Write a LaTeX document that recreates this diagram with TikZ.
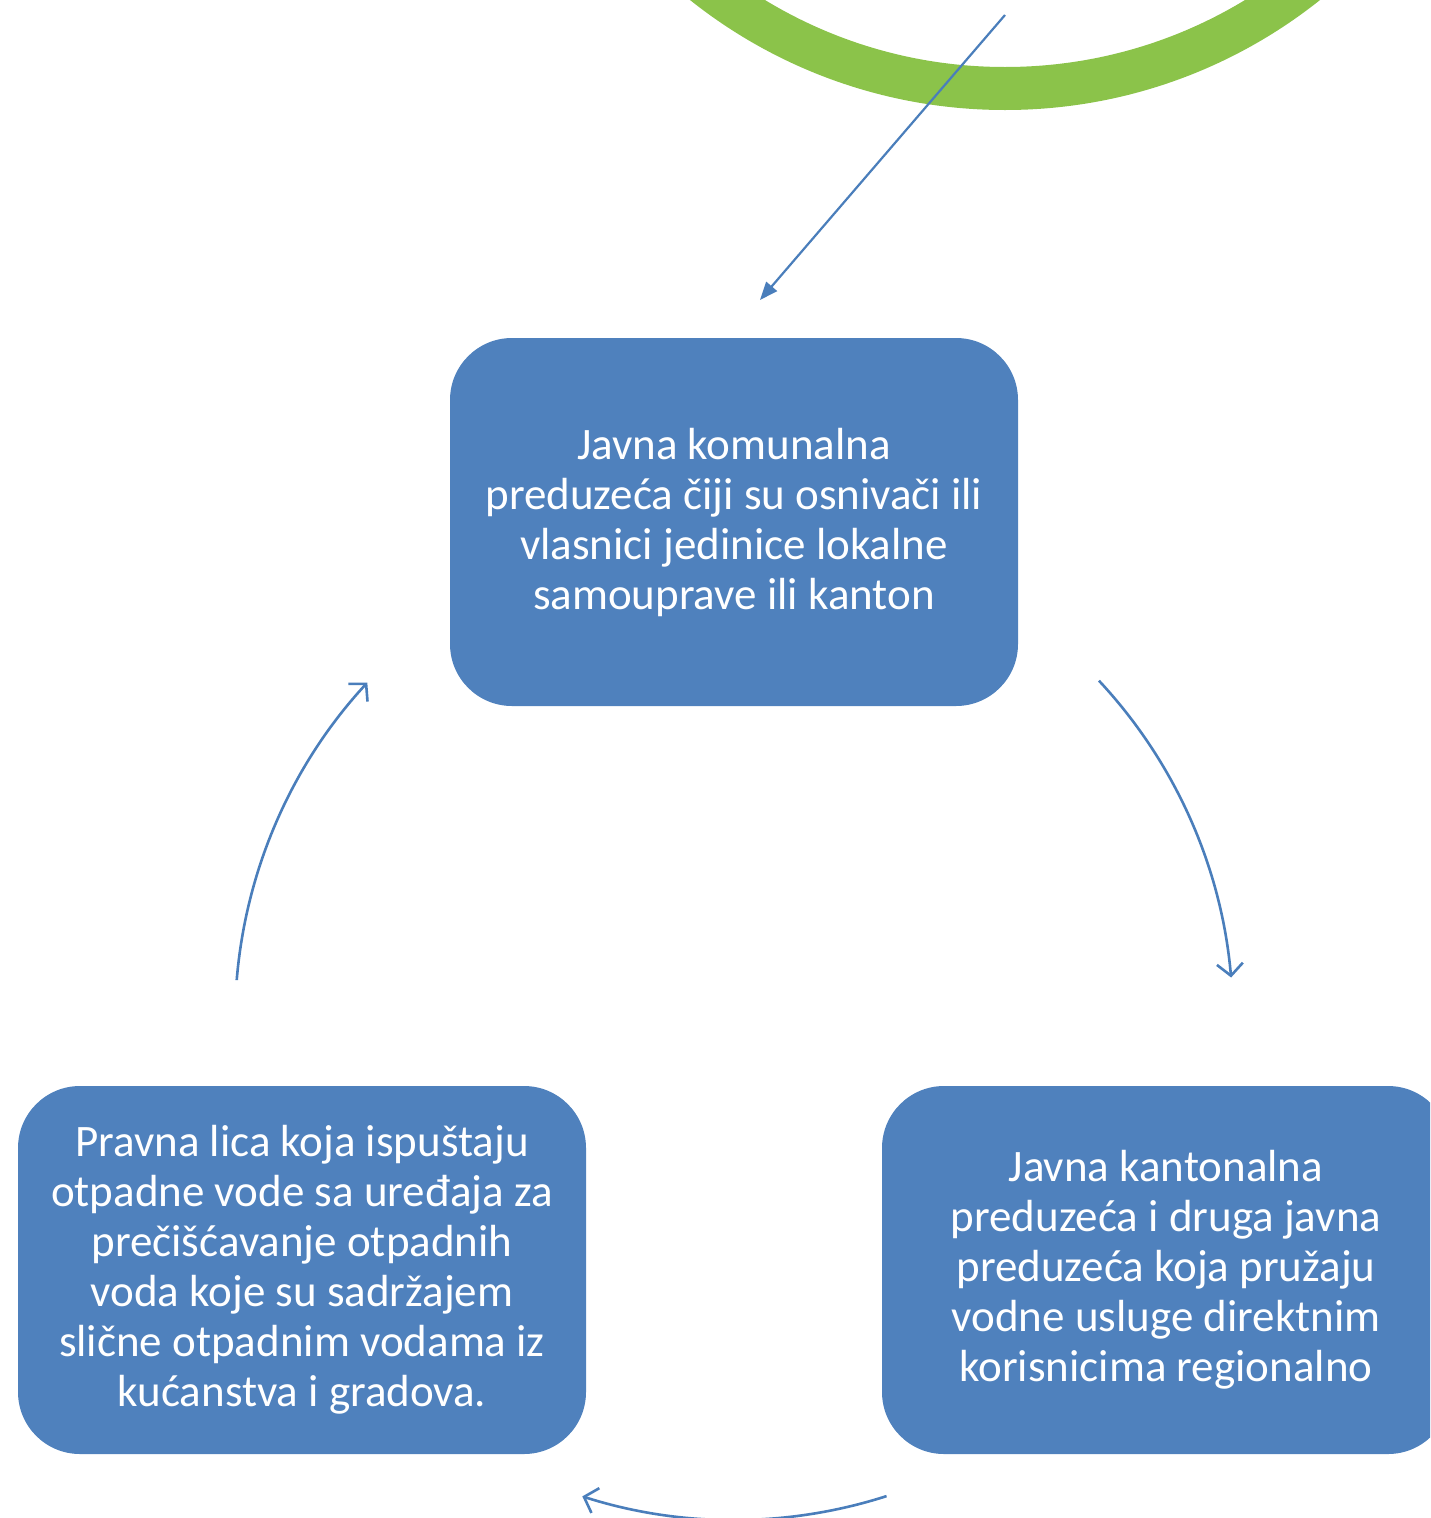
\documentclass[tikz,border=0pt]{standalone}
\usepackage{fontspec}
\setmainfont{Carlito}
\usetikzlibrary{arrows.meta}
\definecolor{boxblue}{RGB}{79,129,189}
\definecolor{arrblue}{RGB}{74,126,187}
\definecolor{ringgreen}{RGB}{139,195,74}
\begin{document}
\begin{tikzpicture}[x=1pt,y=1pt,
  cbox/.style={draw=none,fill=boxblue,rounded corners=62pt,minimum width=568pt,minimum height=368pt,
    text=white,align=center,font=\fontsize{45}{50}\selectfont,inner sep=0pt},
  cyc/.style={draw=arrblue,line width=2.6pt,-{Straight Barb[length=12pt,width=26pt,line width=2.6pt]}}]
\useasboundingbox (0,0) rectangle (1430,-1518);
\clip (0,0) rectangle (1430,-1518);
% green ring
\draw[ringgreen,line width=43pt] (1005,396) circle[radius=484.5];
% boxes
\node[cbox] (top) at (734,-522) {Javna komunalna\\preduzeća čiji su osnivači ili\\vlasnici jedinice lokalne\\samouprave ili kanton};
\node[cbox] (left) at (302,-1270) {Pravna lica koja ispuštaju\\otpadne vode sa uređaja za\\prečišćavanje otpadnih\\voda koje su sadržajem\\slične otpadnim vodama iz\\kućanstva i gradova.};
\node[cbox] (right) at (1166,-1270) {Javna kantonalna\\preduzeća i druga javna\\preduzeća koja pružaju\\vodne usluge direktnim\\korisnicima regionalno};
% top arrow
\coordinate (s0) at (1005,-15);
\coordinate (e0) at (760,-300);
\draw[draw=arrblue,line width=2.2pt,-{Triangle[length=18pt,width=14pt]}] (s0) -- (e0);
% cycle arrows (arcs around centre (734,-1021), radius 499)
\coordinate (c) at (734,-1021);
\path (c) ++(43:499) coordinate (a1);
\path (c) ++(-72.2:499) coordinate (a2);
\path (c) ++(175.3:499) coordinate (a3);
\draw[cyc] (a1) arc[start angle=43,end angle=5,radius=499];
\draw[cyc] (a2) arc[start angle=-72.2,end angle=-107.7,radius=499];
\draw[cyc] (a3) arc[start angle=175.3,end angle=137.3,radius=499];
\end{tikzpicture}
\end{document}
